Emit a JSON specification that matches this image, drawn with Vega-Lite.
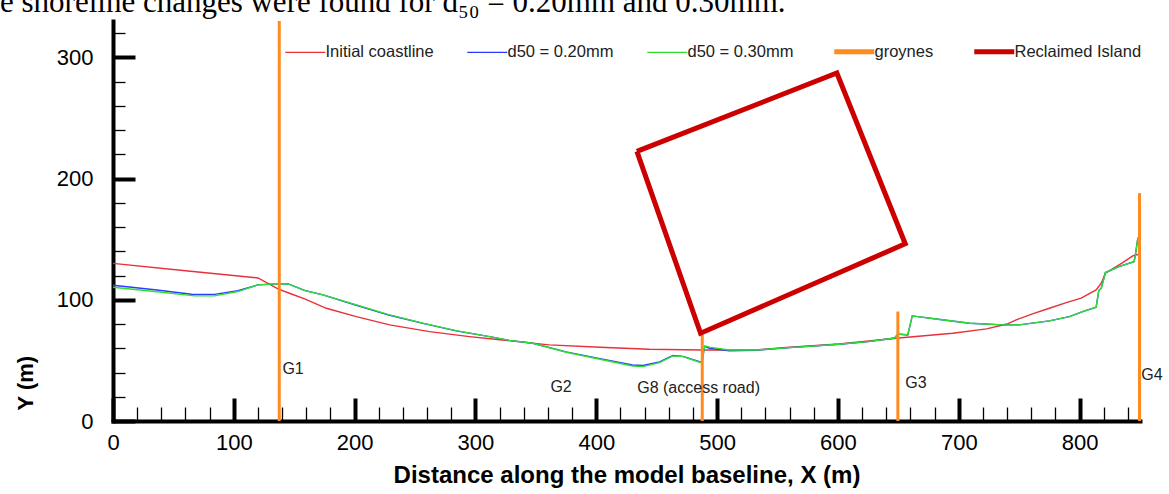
{
  "$schema": "https://vega.github.io/schema/vega-lite/v6.json",
  "width": 1027,
  "height": 400,
  "autosize": {"type": "none"},
  "padding": {"left": 113, "top": 21, "right": 29, "bottom": 73},
  "background": "white",
  "title": {
    "text": "e shoreline changes were found for d₅₀ = 0.20mm and 0.30mm.",
    "anchor": "start",
    "frame": "group",
    "font": "Liberation Serif",
    "fontSize": 31,
    "fontWeight": "normal",
    "color": "black",
    "baseline": "alphabetic",
    "offset": 0,
    "dy": 23,
    "dx": -113
  },
  "datasets": {
    "coast": [
      {"series": "Initial coastline", "x": 0, "y": 130},
      {"series": "Initial coastline", "x": 60, "y": 124},
      {"series": "Initial coastline", "x": 120, "y": 118},
      {"series": "Initial coastline", "x": 136.5, "y": 109},
      {"series": "Initial coastline", "x": 146, "y": 105.4},
      {"series": "Initial coastline", "x": 158.6, "y": 100.7},
      {"series": "Initial coastline", "x": 176.6, "y": 93},
      {"series": "Initial coastline", "x": 201.4, "y": 86.1},
      {"series": "Initial coastline", "x": 229, "y": 79.3},
      {"series": "Initial coastline", "x": 262, "y": 73.7},
      {"series": "Initial coastline", "x": 295, "y": 69.6},
      {"series": "Initial coastline", "x": 320, "y": 67},
      {"series": "Initial coastline", "x": 361, "y": 62.8},
      {"series": "Initial coastline", "x": 403, "y": 60.8},
      {"series": "Initial coastline", "x": 444, "y": 59.2},
      {"series": "Initial coastline", "x": 488, "y": 58.6},
      {"series": "Initial coastline", "x": 532, "y": 58.6},
      {"series": "Initial coastline", "x": 560, "y": 60.8},
      {"series": "Initial coastline", "x": 601, "y": 63.5},
      {"series": "Initial coastline", "x": 648, "y": 68.3},
      {"series": "Initial coastline", "x": 695, "y": 72.4},
      {"series": "Initial coastline", "x": 723, "y": 76},
      {"series": "Initial coastline", "x": 740, "y": 80},
      {"series": "Initial coastline", "x": 747.5, "y": 83.4},
      {"series": "Initial coastline", "x": 761, "y": 88.4},
      {"series": "Initial coastline", "x": 775, "y": 93},
      {"series": "Initial coastline", "x": 789, "y": 97.7},
      {"series": "Initial coastline", "x": 801.3, "y": 101.3},
      {"series": "Initial coastline", "x": 813.7, "y": 108.2},
      {"series": "Initial coastline", "x": 817.9, "y": 113.7},
      {"series": "Initial coastline", "x": 821.4, "y": 122},
      {"series": "Initial coastline", "x": 835.7, "y": 130.7},
      {"series": "Initial coastline", "x": 844, "y": 136.2},
      {"series": "Initial coastline", "x": 849, "y": 137.6},

      {"series": "d50 = 0.20mm", "x": 0, "y": 112},
      {"series": "d50 = 0.20mm", "x": 34.5, "y": 108.3},
      {"series": "d50 = 0.20mm", "x": 65, "y": 104.6},
      {"series": "d50 = 0.20mm", "x": 84, "y": 104.5},
      {"series": "d50 = 0.20mm", "x": 103.4, "y": 107.5},
      {"series": "d50 = 0.20mm", "x": 120, "y": 112.3},
      {"series": "d50 = 0.20mm", "x": 131, "y": 112.9},
      {"series": "d50 = 0.20mm", "x": 145, "y": 113.1},
      {"series": "d50 = 0.20mm", "x": 158.6, "y": 107.8},
      {"series": "d50 = 0.20mm", "x": 173.8, "y": 104},
      {"series": "d50 = 0.20mm", "x": 201.4, "y": 95.5},
      {"series": "d50 = 0.20mm", "x": 229, "y": 87.2},
      {"series": "d50 = 0.20mm", "x": 256.5, "y": 80.5},
      {"series": "d50 = 0.20mm", "x": 284, "y": 74.4},
      {"series": "d50 = 0.20mm", "x": 311.7, "y": 69.6},
      {"series": "d50 = 0.20mm", "x": 328, "y": 66.5},
      {"series": "d50 = 0.20mm", "x": 347.5, "y": 64.1},
      {"series": "d50 = 0.20mm", "x": 375, "y": 57},
      {"series": "d50 = 0.20mm", "x": 403, "y": 51.5},
      {"series": "d50 = 0.20mm", "x": 430, "y": 46.2},
      {"series": "d50 = 0.20mm", "x": 438.6, "y": 45.8},
      {"series": "d50 = 0.20mm", "x": 452.4, "y": 48.8},
      {"series": "d50 = 0.20mm", "x": 463.4, "y": 54},
      {"series": "d50 = 0.20mm", "x": 471.7, "y": 53.3},
      {"series": "d50 = 0.20mm", "x": 485.5, "y": 49},
      {"series": "d50 = 0.20mm", "x": 487.5, "y": 48.5},
      {"series": "d50 = 0.20mm", "x": 489.6, "y": 61.5},
      {"series": "d50 = 0.20mm", "x": 493.7, "y": 60},
      {"series": "d50 = 0.20mm", "x": 510, "y": 58},
      {"series": "d50 = 0.20mm", "x": 532.4, "y": 58.4},
      {"series": "d50 = 0.20mm", "x": 560, "y": 60.5},
      {"series": "d50 = 0.20mm", "x": 601, "y": 63.3},
      {"series": "d50 = 0.20mm", "x": 625, "y": 65.5},
      {"series": "d50 = 0.20mm", "x": 647, "y": 68.5},
      {"series": "d50 = 0.20mm", "x": 649.6, "y": 71.8},
      {"series": "d50 = 0.20mm", "x": 657.8, "y": 71},
      {"series": "d50 = 0.20mm", "x": 661.5, "y": 86.7},
      {"series": "d50 = 0.20mm", "x": 681.3, "y": 84.2},
      {"series": "d50 = 0.20mm", "x": 709, "y": 80.7},
      {"series": "d50 = 0.20mm", "x": 736.4, "y": 79.3},
      {"series": "d50 = 0.20mm", "x": 750, "y": 79.3},
      {"series": "d50 = 0.20mm", "x": 775, "y": 82.6},
      {"series": "d50 = 0.20mm", "x": 791.6, "y": 86.1},
      {"series": "d50 = 0.20mm", "x": 802.6, "y": 90.3},
      {"series": "d50 = 0.20mm", "x": 813.7, "y": 93.9},
      {"series": "d50 = 0.20mm", "x": 815.9, "y": 107.6},
      {"series": "d50 = 0.20mm", "x": 817.9, "y": 109.5},
      {"series": "d50 = 0.20mm", "x": 821.4, "y": 122.5},
      {"series": "d50 = 0.20mm", "x": 832.5, "y": 127.4},
      {"series": "d50 = 0.20mm", "x": 845, "y": 131.5},
      {"series": "d50 = 0.20mm", "x": 845.9, "y": 135.2},
      {"series": "d50 = 0.20mm", "x": 848.2, "y": 150.8},
      {"series": "d50 = 0.20mm", "x": 849, "y": 150.8},

      {"series": "d50 = 0.30mm", "x": 0, "y": 110.4},
      {"series": "d50 = 0.30mm", "x": 34.5, "y": 106.8},
      {"series": "d50 = 0.30mm", "x": 67.6, "y": 103.2},
      {"series": "d50 = 0.30mm", "x": 84, "y": 103.2},
      {"series": "d50 = 0.30mm", "x": 103.4, "y": 106.8},
      {"series": "d50 = 0.30mm", "x": 120, "y": 112.3},
      {"series": "d50 = 0.30mm", "x": 131, "y": 112.9},
      {"series": "d50 = 0.30mm", "x": 145, "y": 113.1},
      {"series": "d50 = 0.30mm", "x": 158.6, "y": 107.6},
      {"series": "d50 = 0.30mm", "x": 173.8, "y": 104},
      {"series": "d50 = 0.30mm", "x": 201.4, "y": 95.8},
      {"series": "d50 = 0.30mm", "x": 229, "y": 87.5},
      {"series": "d50 = 0.30mm", "x": 256.5, "y": 80.7},
      {"series": "d50 = 0.30mm", "x": 284, "y": 74.6},
      {"series": "d50 = 0.30mm", "x": 311.7, "y": 69.6},
      {"series": "d50 = 0.30mm", "x": 328, "y": 66.5},
      {"series": "d50 = 0.30mm", "x": 347.5, "y": 64.1},
      {"series": "d50 = 0.30mm", "x": 375, "y": 56.7},
      {"series": "d50 = 0.30mm", "x": 403, "y": 50.9},
      {"series": "d50 = 0.30mm", "x": 430, "y": 45.4},
      {"series": "d50 = 0.30mm", "x": 438.6, "y": 44.9},
      {"series": "d50 = 0.30mm", "x": 452.4, "y": 48.2},
      {"series": "d50 = 0.30mm", "x": 463.4, "y": 53.7},
      {"series": "d50 = 0.30mm", "x": 471.7, "y": 53.1},
      {"series": "d50 = 0.30mm", "x": 485.5, "y": 48.5},
      {"series": "d50 = 0.30mm", "x": 487.5, "y": 48},
      {"series": "d50 = 0.30mm", "x": 489.6, "y": 62},
      {"series": "d50 = 0.30mm", "x": 493.7, "y": 60.9},
      {"series": "d50 = 0.30mm", "x": 510, "y": 58.6},
      {"series": "d50 = 0.30mm", "x": 532.4, "y": 58.6},
      {"series": "d50 = 0.30mm", "x": 560, "y": 60.5},
      {"series": "d50 = 0.30mm", "x": 601, "y": 63.3},
      {"series": "d50 = 0.30mm", "x": 625, "y": 65.5},
      {"series": "d50 = 0.30mm", "x": 647, "y": 68.5},
      {"series": "d50 = 0.30mm", "x": 649.6, "y": 71.8},
      {"series": "d50 = 0.30mm", "x": 657.8, "y": 71},
      {"series": "d50 = 0.30mm", "x": 661.5, "y": 86.7},
      {"series": "d50 = 0.30mm", "x": 681.3, "y": 84.2},
      {"series": "d50 = 0.30mm", "x": 709, "y": 80.7},
      {"series": "d50 = 0.30mm", "x": 736.4, "y": 79.3},
      {"series": "d50 = 0.30mm", "x": 750, "y": 79.3},
      {"series": "d50 = 0.30mm", "x": 775, "y": 82.6},
      {"series": "d50 = 0.30mm", "x": 791.6, "y": 86.1},
      {"series": "d50 = 0.30mm", "x": 802.6, "y": 90.3},
      {"series": "d50 = 0.30mm", "x": 813.7, "y": 93.9},
      {"series": "d50 = 0.30mm", "x": 815.9, "y": 107.6},
      {"series": "d50 = 0.30mm", "x": 817.9, "y": 109.5},
      {"series": "d50 = 0.30mm", "x": 821.4, "y": 122.5},
      {"series": "d50 = 0.30mm", "x": 832.5, "y": 127.4},
      {"series": "d50 = 0.30mm", "x": 845, "y": 131.5},
      {"series": "d50 = 0.30mm", "x": 845.9, "y": 135.2},
      {"series": "d50 = 0.30mm", "x": 848.2, "y": 150.8},
      {"series": "d50 = 0.30mm", "x": 849, "y": 150.8}
    ],
    "groynes": [
      {"series": "groynes", "name": "G1", "x": 137.6, "y0": 0, "y1": 330},
      {"series": "groynes", "name": "G8", "x": 487.7, "y0": 0, "y1": 71},
      {"series": "groynes", "name": "G3", "x": 649.6, "y0": 0, "y1": 90.3},
      {"series": "groynes", "name": "G4", "x": 849.6, "y0": 0, "y1": 188}
    ],
    "island": [
      {"series": "Reclaimed Island", "i": 0, "x": 433.6, "y": 222.4},
      {"series": "Reclaimed Island", "i": 1, "x": 599.1, "y": 287.1},
      {"series": "Reclaimed Island", "i": 2, "x": 655.7, "y": 146.2},
      {"series": "Reclaimed Island", "i": 3, "x": 486.3, "y": 72.4},
      {"series": "Reclaimed Island", "i": 4, "x": 433.6, "y": 222.4}
    ],
    "labels": [
      {"text": "G1", "x": 140.2, "y": 42.7},
      {"text": "G2", "x": 362, "y": 28.3},
      {"text": "G8 (access road)", "x": 433.9, "y": 27},
      {"text": "G3", "x": 655.7, "y": 31.4},
      {"text": "G4", "x": 851, "y": 38}
    ]
  },
  "encoding": {
    "x": {
      "field": "x",
      "type": "quantitative",
      "scale": {"domain": [0, 850], "nice": false, "zero": false},
      "axis": {
        "title": "Distance along the model baseline, X (m)",
        "values": [0,20,40,60,80,100,120,140,160,180,200,220,240,260,280,300,320,340,360,380,400,420,440,460,480,500,520,540,560,580,600,620,640,660,680,700,720,740,760,780,800,820,840],
        "labelExpr": "datum.value % 100 === 0 ? datum.label : ''",
        "tickSize": {"condition": {"test": "datum.value % 100 === 0", "value": -23}, "value": -14},
        "tickWidth": {"condition": {"test": "datum.value % 100 === 0", "value": 4}, "value": 1.3},
        "labelPadding": 34,
        "titleFontSize": 24,
        "titleY": 61,
        "titleBaseline": "alphabetic"
      }
    },
    "y": {
      "field": "y",
      "type": "quantitative",
      "scale": {"domain": [0, 330], "nice": false, "zero": false},
      "axis": {
        "title": "Y (m)",
        "values": [0,20,40,60,80,100,120,140,160,180,200,220,240,260,280,300,320],
        "labelExpr": "datum.value % 100 === 0 ? datum.label : ''",
        "tickSize": {"condition": {"test": "datum.value % 100 === 0", "value": -22}, "value": -12},
        "tickWidth": {"condition": {"test": "datum.value % 100 === 0", "value": 4}, "value": 1.3},
        "labelPadding": 42,
        "titleX": -88,
        "titleY": 389,
        "titleAngle": -90,
        "titleAlign": "left",
        "titleBaseline": "middle"
      }
    }
  },
  "layer": [
    {
      "data": {"name": "coast"},
      "mark": {"type": "line", "strokeWidth": 1.4},
      "encoding": {
        "color": {
          "field": "series",
          "type": "nominal",
          "scale": {
            "domain": ["Initial coastline", "d50 = 0.20mm", "d50 = 0.30mm", "groynes", "Reclaimed Island"],
            "range": ["#E8303A", "#2A3CFF", "#2EE02E", "#FF8A1E", "#CC0000"]
          },
          "legend": {
            "title": null,
            "encode": {
              "symbols": {
                "update": {
                  "strokeWidth": {"signal": "datum.value === 'groynes' || datum.value === 'Reclaimed Island' ? 5 : 1.4"}
                }
              }
            }
          }
        }
      }
    },
    {
      "data": {"name": "groynes"},
      "mark": {"type": "rule", "strokeWidth": 3},
      "encoding": {
        "y": {"field": "y0", "type": "quantitative"},
        "y2": {"field": "y1"},
        "color": {"field": "series", "type": "nominal", "legend": {"title": null}}
      }
    },
    {
      "data": {"name": "island"},
      "mark": {"type": "line", "strokeWidth": 5, "strokeJoin": "miter"},
      "encoding": {
        "order": {"field": "i", "type": "quantitative"},
        "color": {"field": "series", "type": "nominal", "legend": {"title": null}}
      }
    },
    {
      "data": {"name": "labels"},
      "mark": {"type": "text", "align": "left", "baseline": "middle", "font": "Liberation Sans", "fontSize": 16, "color": "#222222"},
      "encoding": {
        "text": {"field": "text", "type": "nominal"}
      }
    }
  ],
  "config": {
    "view": {"stroke": null},
    "font": "Liberation Sans",
    "axis": {
      "grid": false,
      "domainColor": "black",
      "domainWidth": 4,
      "domainCap": "square",
      "tickColor": "black",
      "labelColor": "black",
      "labelFont": "Liberation Sans",
      "labelFontSize": 22,
      "labelFlush": false,
      "labelOverlap": false,
      "labelBound": false,
      "titleFont": "Liberation Sans",
      "titleFontSize": 22,
      "titleFontWeight": "bold",
      "titleColor": "black"
    },
    "legend": {
      "orient": "none",
      "legendX": 184,
      "legendY": 22,
      "direction": "horizontal",
      "symbolType": "stroke",
      "symbolSize": 1600,
      "labelFont": "Liberation Sans",
      "labelFontSize": 16.5,
      "labelColor": "#222222",
      "labelOffset": 12,
      "columnPadding": 30
    }
  }
}
